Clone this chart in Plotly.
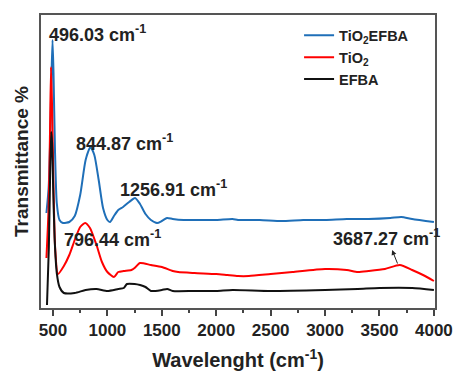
import plotly.graph_objects as go

blue_x = [440, 460, 475, 487, 496, 505, 518, 535, 560, 592, 650, 700, 750, 800, 844, 880, 920, 960, 1000, 1024, 1060, 1100, 1144, 1200, 1254, 1300, 1350, 1400, 1456, 1500, 1548, 1600, 1700, 1800, 2000, 2150, 2200, 2400, 2600, 2800, 3000, 3200, 3400, 3600, 3700, 3800, 4000]
blue_y = [95, 120, 170, 235, 268, 235, 160, 105, 88, 85, 86, 92, 113, 148, 161, 153, 128, 100, 88, 86, 92, 98, 101, 106, 110, 104, 94, 88, 85, 87, 90, 89, 88, 88, 88, 89, 88, 88, 87, 88, 88, 89, 89, 90, 91, 89, 86]

red_x = [440, 460, 472, 482, 492, 505, 520, 546, 600, 650, 700, 750, 796, 840, 900, 950, 1000, 1060, 1100, 1150, 1220, 1250, 1300, 1400, 1500, 1600, 1650, 1800, 2000, 2100, 2200, 2300, 2500, 2700, 3000, 3200, 3300, 3400, 3550, 3687, 3800, 3900, 4000]
red_y = [50, 100, 170, 241, 200, 120, 60, 34, 42, 53, 68, 81, 85, 80, 63, 46, 36, 31, 36, 37, 38, 40, 45, 43, 41, 37, 36, 35, 34, 33, 32, 32, 34, 36, 39, 38, 36, 37, 39, 43, 38, 33, 27]

black_x = [445, 462, 475, 484, 492, 502, 515, 535, 560, 600, 700, 800, 900, 1000, 1100, 1150, 1180, 1250, 1300, 1350, 1400, 1500, 1550, 1600, 1800, 2000, 2150, 2500, 3000, 3300, 3500, 3800, 4000]
black_y = [3, 60, 140, 176, 165, 120, 70, 35, 21, 15, 15, 18, 19, 17, 19, 20, 24, 24, 23, 21, 17, 18, 19, 17, 17, 17, 18, 17, 18, 19, 20, 20, 18]

x_ticks = [500, 1000, 1500, 2000, 2500, 3000, 3500, 4000]

peak_labels = ["496.03 cm<sup>-1</sup>", "844.87 cm<sup>-1</sup>", "1256.91 cm<sup>-1</sup>", "796.44 cm<sup>-1</sup>", "3687.27 cm<sup>-1</sup>"]
label_x = [913, 1157, 1611, 1051, 3567]
label_y = [275, 166, 120, 70, 71]

FONT = "Liberation Sans, Arial, sans-serif"
TXT = "#222222"

fig = go.Figure()
fig.add_trace(go.Scatter(x=blue_x, y=blue_y, mode="lines", name="TiO<sub>2</sub>EFBA",
                         line=dict(color="#1f6fb8", width=2, shape="spline", smoothing=0.6)))
fig.add_trace(go.Scatter(x=red_x, y=red_y, mode="lines", name="TiO<sub>2</sub>",
                         line=dict(color="#ff0000", width=2, shape="spline", smoothing=0.6)))
fig.add_trace(go.Scatter(x=black_x, y=black_y, mode="lines", name="EFBA",
                         line=dict(color="#111111", width=2, shape="spline", smoothing=0.6)))

for t, lx, ly in zip(peak_labels, label_x, label_y):
    fig.add_annotation(x=lx, y=ly, text=t, showarrow=False, xanchor="center", yanchor="middle",
                       font=dict(family=FONT, size=18, color=TXT, weight="bold"))

fig.add_annotation(x=3616, y=58, ax=6, ay=15, text="", showarrow=True, arrowhead=2,
                   arrowsize=1, arrowwidth=1, arrowcolor=TXT)

fig.update_layout(
    width=456, height=371,
    margin=dict(l=41, r=21, t=15, b=63),
    paper_bgcolor="white", plot_bgcolor="white",
    showlegend=True,
    legend=dict(x=0.655, y=0.985, xanchor="left", yanchor="top",
                bgcolor="rgba(0,0,0,0)", font=dict(family=FONT, size=14.5, color=TXT, weight="bold"),
                tracegroupgap=0, itemwidth=30),
    xaxis=dict(range=[390, 4010], tickvals=x_ticks, ticks="outside", ticklen=6, tickwidth=1.5,
               tickcolor="#444", showline=True, linecolor="#555", linewidth=1.5, mirror=True,
               showgrid=False, zeroline=False, automargin=False,
               tickfont=dict(family=FONT, size=17, color=TXT, weight="bold"),
               minor=dict(dtick=250, tick0=500, ticks="outside", ticklen=3, tickcolor="#444"),
               title=dict(text="Wavelenght (cm<sup>-1</sup>)", standoff=15,
                          font=dict(family=FONT, size=20, color=TXT, weight="bold"))),
    yaxis=dict(range=[0, 293], showticklabels=False, ticks="", showline=True, linecolor="#555",
               linewidth=1.5, mirror=True, showgrid=False, zeroline=False, automargin=False,
               title=dict(text="Transmittance %", standoff=6,
                          font=dict(family=FONT, size=19, color=TXT, weight="bold"))),
)

fig.write_html("out.html")
